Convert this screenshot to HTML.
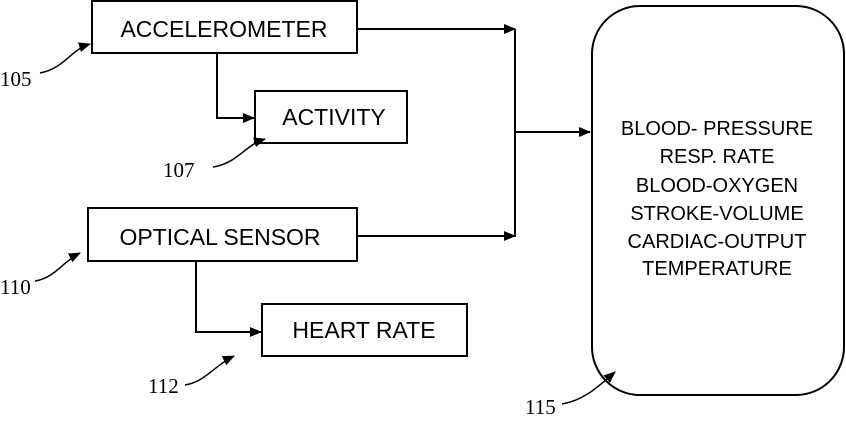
<!DOCTYPE html>
<html><head><style>
body{margin:0;background:#fff;}
svg text{font-family:"Liberation Sans",sans-serif;fill:#000;}
.n{font-family:"Liberation Serif",serif;font-size:21px;}
</style></head><body>
<svg width="846" height="416" viewBox="0 0 846 416" xmlns="http://www.w3.org/2000/svg">
<defs><marker id="a" markerWidth="12" markerHeight="10" refX="11" refY="5" orient="auto" markerUnits="userSpaceOnUse"><path d="M0,0 L12,5 L0,10 Z" fill="#000"/></marker></defs>
<g fill="none" stroke="#000" stroke-width="2">
<rect x="92" y="1" width="265" height="52"/>
<rect x="255" y="91" width="152" height="52"/>
<rect x="88" y="208" width="269" height="53"/>
<rect x="262" y="304" width="205" height="52"/>
<rect x="592" y="6" width="252" height="389" rx="48"/>
<path d="M357 29 H515" marker-end="url(#a)"/>
<path d="M515 29 V237"/>
<path d="M357 236 H515" marker-end="url(#a)"/>
<path d="M515 132 H590" marker-end="url(#a)"/>
<path d="M217 53 V118 H254" marker-end="url(#a)"/>
<path d="M196 261 V332 H261" marker-end="url(#a)"/>
<g stroke-width="1.5">
<path d="M40 73 C65 68 70 50 90 44" marker-end="url(#a)"/>
<path d="M213 167 C238 163 245 145 265 139" marker-end="url(#a)"/>
<path d="M35 281 C55 278 62 262 80 253" marker-end="url(#a)"/>
<path d="M185 385 C205 382 215 365 234 356" marker-end="url(#a)"/>
<path d="M562 404 C585 400 600 385 615 372" marker-end="url(#a)"/>
</g>
</g>
<text x="224" y="37" font-size="23" text-anchor="middle">ACCELEROMETER</text>
<text x="334" y="125" font-size="23" text-anchor="middle">ACTIVITY</text>
<text x="220" y="245" font-size="23" text-anchor="middle">OPTICAL SENSOR</text>
<text x="364" y="338" font-size="23" text-anchor="middle">HEART RATE</text>
<g font-size="20" text-anchor="middle">
<text x="717" y="135">BLOOD- PRESSURE</text>
<text x="717" y="163">RESP. RATE</text>
<text x="717" y="192">BLOOD-OXYGEN</text>
<text x="717" y="220">STROKE-VOLUME</text>
<text x="717" y="248">CARDIAC-OUTPUT</text>
<text x="717" y="275">TEMPERATURE</text>
</g>
<text class="n" x="0" y="86">105</text>
<text class="n" x="163" y="177">107</text>
<text class="n" x="0" y="294">110</text>
<text class="n" x="148" y="393">112</text>
<text class="n" x="525" y="414">115</text>
</svg>
</body></html>
